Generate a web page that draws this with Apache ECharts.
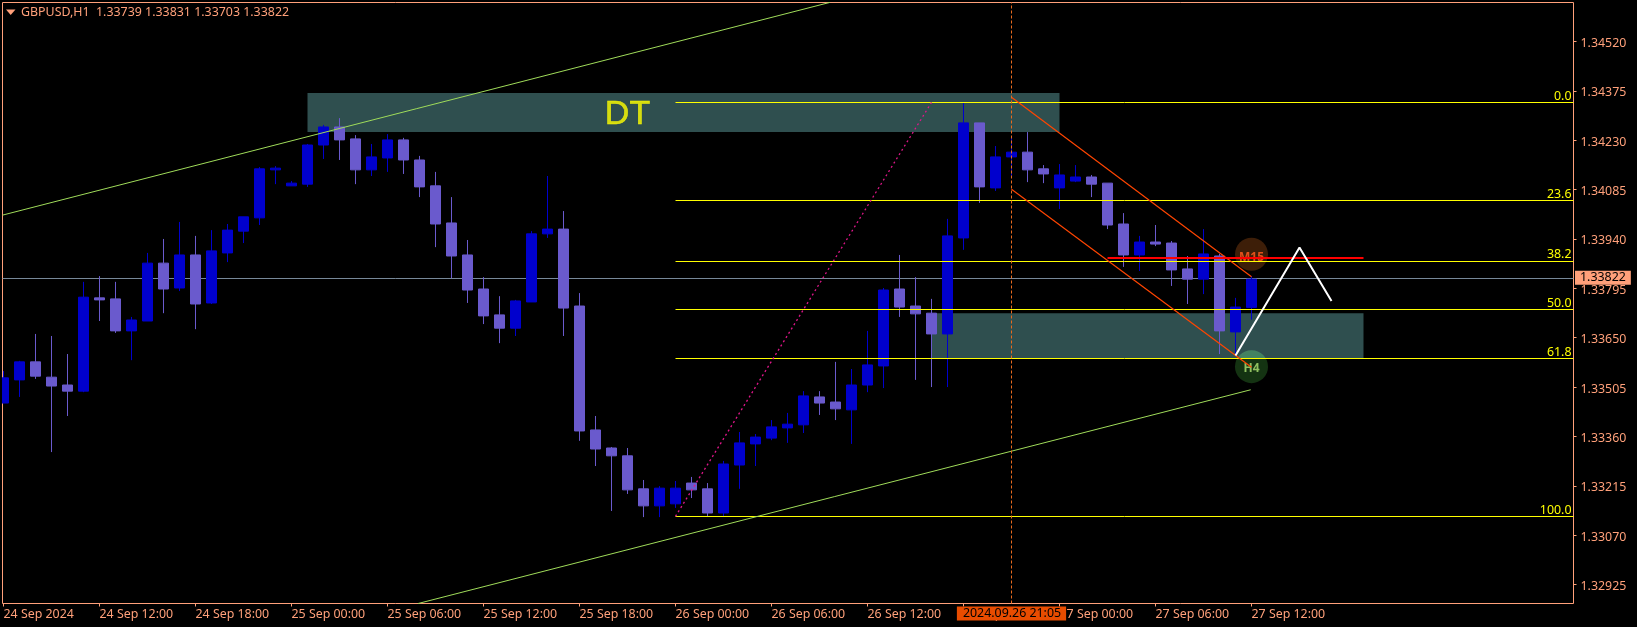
<!DOCTYPE html>
<html><head><meta charset="utf-8"><style>html,body{margin:0;padding:0;background:#000}#c{width:1637px;height:627px}</style>
<script src="https://cdn.jsdelivr.net/npm/echarts@6/dist/echarts.min.js"></script></head>
<body><div id="c"></div><script>
const opens=[1.33458,1.33526,1.33579,1.33534,1.33511,1.33493,1.33767,1.33764,1.33670,1.33699,1.33869,1.33796,1.33893,1.33752,1.33899,1.33963,1.34002,1.34143,1.34096,1.34101,1.34216,1.34269,1.34234,1.34143,1.34178,1.34231,1.34172,1.34096,1.33987,1.33893,1.33793,1.33717,1.33678,1.33755,1.33955,1.33969,1.33743,1.33379,1.33326,1.33303,1.33206,1.33156,1.33162,1.33223,1.33206,1.33135,1.33276,1.33338,1.33355,1.33385,1.33394,1.33476,1.33461,1.33438,1.33511,1.33567,1.33793,1.33743,1.33722,1.33661,1.33943,1.34281,1.34090,1.34181,1.34195,1.34146,1.34090,1.34110,1.34122,1.34104,1.33984,1.33893,1.33931,1.33928,1.33852,1.33822,1.33890,1.33667,1.33739];
const highs=[1.33552,1.33582,1.33661,1.33655,1.33602,1.33814,1.33831,1.33814,1.33711,1.33899,1.33940,1.33990,1.33949,1.33966,1.33984,1.34005,1.34151,1.34154,1.34110,1.34219,1.34275,1.34295,1.34245,1.34219,1.34248,1.34237,1.34184,1.34137,1.34063,1.33937,1.33828,1.33772,1.33761,1.33963,1.34125,1.34022,1.33781,1.33420,1.33329,1.33326,1.33232,1.33214,1.33229,1.33241,1.33223,1.33288,1.33373,1.33367,1.33408,1.33429,1.33493,1.33493,1.33579,1.33558,1.33670,1.33796,1.33893,1.33828,1.33764,1.33999,1.34339,1.34281,1.34213,1.34240,1.34254,1.34157,1.34160,1.34157,1.34128,1.34104,1.34016,1.33949,1.33981,1.33934,1.33890,1.33969,1.33896,1.33767,1.33831];
const lows=[1.33458,1.33476,1.33529,1.33314,1.33420,1.33490,1.33699,1.33664,1.33584,1.33699,1.33722,1.33787,1.33675,1.33749,1.33872,1.33928,1.33981,1.34101,1.34096,1.34093,1.34175,1.34172,1.34101,1.34125,1.34137,1.34131,1.34063,1.33916,1.33825,1.33752,1.33690,1.33634,1.33655,1.33755,1.33943,1.33655,1.33347,1.33273,1.33141,1.33191,1.33123,1.33123,1.33150,1.33179,1.33126,1.33126,1.33206,1.33273,1.33349,1.33341,1.33370,1.33423,1.33408,1.33338,1.33490,1.33502,1.33711,1.33526,1.33505,1.33505,1.33908,1.34046,1.34081,1.34122,1.34107,1.34104,1.34028,1.34107,1.34063,1.33969,1.33858,1.33846,1.33919,1.33802,1.33749,1.33778,1.33602,1.33596,1.33703];
const closes=[1.33532,1.33579,1.33537,1.33508,1.33493,1.33769,1.33761,1.33670,1.33702,1.33869,1.33793,1.33893,1.33749,1.33905,1.33966,1.34005,1.34146,1.34148,1.34104,1.34216,1.34269,1.34231,1.34143,1.34181,1.34231,1.34172,1.34093,1.33984,1.33890,1.33790,1.33714,1.33678,1.33758,1.33955,1.33969,1.33737,1.33376,1.33323,1.33303,1.33203,1.33156,1.33208,1.33208,1.33203,1.33135,1.33279,1.33341,1.33358,1.33388,1.33396,1.33479,1.33458,1.33441,1.33511,1.33570,1.33790,1.33740,1.33720,1.33661,1.33949,1.34281,1.34093,1.34181,1.34195,1.34143,1.34131,1.34128,1.34122,1.34101,1.33981,1.33893,1.33931,1.33925,1.33849,1.33822,1.33896,1.33670,1.33740,1.33822];

const xTicks=[0,6,12,18,24,30,36,42,48,54,60,66,72,78];
const xTickLabels=['24 Sep 2024','24 Sep 12:00','24 Sep 18:00','25 Sep 00:00','25 Sep 06:00','25 Sep 12:00','25 Sep 18:00','26 Sep 00:00','26 Sep 06:00','26 Sep 12:00','26 Sep 18:00','27 Sep 00:00','27 Sep 06:00','27 Sep 12:00'];
const yTicks=[1.34520,1.34375,1.34230,1.34085,1.33940,1.33795,1.33650,1.33505,1.33360,1.33215,1.33070,1.32925];

const xMin=-0.0625,xMax=98.125,yMin=1.328692,yMax=1.346346;
const lastPriceText='1.33822', lastPriceLevel=1.33826;
const cursorBar=63, cursorLabel='2024.09.26 21:05';
const fibNames=['0.0','23.6','38.2','50.0','61.8','100.0'];
const fibPrices=[1.34341,1.34054,1.33876,1.33733,1.33590,1.33125];
const fibStartBar=42;
const fibDiagonalBars=[42,58], fibDiagonalPrices=[1.33125,1.34341];
const upperTrendBars=[xMin,51.66], upperTrendPrices=[1.34010,1.34635];
const lowerTrendBars=[25.9,77.95], lowerTrendPrices=[1.32869,1.33497];
const channelABars=[63,78], channelAPrices=[1.34356,1.33829];
const channelBBars=[63,78], channelBPrices=[1.34086,1.33563];
const resistanceBars=[69,85], resistancePrices=[1.33884,1.33884];
const zigzagBars=[77,81,83], zigzagPrices=[1.33598,1.33915,1.33758];
const zoneTop={bars:[19,66],prices:[1.34369,1.34254]};
const zoneBottom={bars:[58,85],prices:[1.33722,1.33589]};

const SALMON='#FFA07A', FONT='"Noto Sans",sans-serif', FS=12.4;
const pair=(xs,ys)=>xs.map((x,i)=>[x,ys[i]]);
const lineS=(name,xs,ys,color,width,type)=>({name,type:'line',data:pair(xs,ys),symbol:'none',silent:true,z:5,lineStyle:{color,width,type:type||'solid'},animation:false});

const chart=echarts.init(document.getElementById('c'),null,{renderer:'canvas'});
chart.setOption({
  animation:false,backgroundColor:'#000',
  title:{text:'GBPUSD,H1  1.33739 1.33831 1.33703 1.33822',left:21,top:6,padding:0,textStyle:{color:SALMON,fontSize:FS,fontWeight:'normal',fontFamily:FONT}},
  graphic:[
    {type:'polygon',shape:{points:[[6,9.5],[15.5,9.5],[10.7,15]]},style:{fill:SALMON},z:100},
    {type:'rect',shape:{x:0,y:0,width:2,height:627},style:{fill:'#000'},z:100}
  ],
  grid:{left:2.5,top:2.5,width:1571,height:601,show:true,backgroundColor:'#000',borderColor:SALMON,borderWidth:1},
  xAxis:{type:'value',min:xMin,max:xMax,splitLine:{show:false},axisLine:{show:false,onZero:false},
    axisTick:{show:true,length:3,customValues:xTicks,lineStyle:{color:SALMON}},
    axisLabel:{customValues:xTicks,color:SALMON,fontFamily:FONT,fontSize:FS,align:'left',margin:5,hideOverlap:false,
      formatter:v=>xTickLabels[xTicks.indexOf(v)]||''}},
  yAxis:{type:'value',position:'right',min:yMin,max:yMax,splitLine:{show:false},axisLine:{show:false,onZero:false},
    axisTick:{show:true,length:3,customValues:yTicks,lineStyle:{color:SALMON}},
    axisLabel:{customValues:yTicks,color:SALMON,fontFamily:FONT,fontSize:FS,margin:7,verticalAlign:'top',lineHeight:4,hideOverlap:false,formatter:v=>v.toFixed(5)}},
  series:[
    {name:'zones',type:'line',data:[],z:0,silent:true,markArea:{silent:true,z:0,itemStyle:{color:'#2F4F4F',opacity:1},
      data:[zoneTop,zoneBottom].map(r=>[{coord:[r.bars[0],r.prices[0]]},{coord:[r.bars[1],r.prices[1]]}])}},
    {name:'last',type:'line',data:[],z:1,silent:true,
      markLine:{silent:true,z:1,symbol:'none',animation:false,precision:6,
        lineStyle:{color:'#778899',width:1,type:'solid'},
        label:{position:'end',distance:1.5,color:'#000',backgroundColor:SALMON,padding:[1,5,1,5],lineHeight:12,fontSize:FS,fontFamily:FONT,formatter:lastPriceText},
        data:[[{coord:[xMin,lastPriceLevel]},{coord:[xMax,lastPriceLevel]}]]}},
    {name:'M15',type:'scatter',z:2,silent:true,symbolSize:33,data:[[78,1.33895]],itemStyle:{color:'#3D1E08',opacity:1},
      label:{show:true,position:'inside',offset:[0,3.5],formatter:'M15',color:'#E0501A',fontSize:12,fontWeight:'bold',fontFamily:FONT}},
    {name:'H4',type:'scatter',z:2,silent:true,symbolSize:33,blendMode:'lighter',data:[[78,1.33565]],itemStyle:{color:'rgb(20,51,18)',opacity:1},
      label:{show:true,position:'inside',offset:[0,2],formatter:'H4',color:'#8FC060',fontSize:12,fontWeight:'bold',fontFamily:FONT}},
    {name:'GBPUSD',type:'candlestick',z:4,silent:true,barWidth:11,
      data:opens.map((o,i)=>[i,o,closes[i],lows[i],highs[i]]),
      itemStyle:{color:'#0000CD',color0:'#6A5ACD',borderColor:'#0000CD',borderColor0:'#6A5ACD',borderWidth:1}},
    lineS('upper trend',upperTrendBars,upperTrendPrices,'#A0DC5A',1),
    lineS('lower trend',lowerTrendBars,lowerTrendPrices,'#A0DC5A',1),
    lineS('fibo diagonal',fibDiagonalBars,fibDiagonalPrices,'#E0168A',1.3,[2,3]),
    lineS('channel A',channelABars,channelAPrices,'#FF4500',1.2),
    lineS('channel B',channelBBars,channelBPrices,'#FF4500',1.2),
    lineS('resistance',resistanceBars,resistancePrices,'#FF0000',2),
    lineS('zigzag',zigzagBars,zigzagPrices,'#FFFFFF',2),
    {name:'levels',type:'line',data:[],z:5,silent:true,
      markLine:{silent:true,z:5,symbol:'none',animation:false,precision:6,
        lineStyle:{color:'#FFFF00',width:1,type:'solid'},
        label:{position:'insideEndTop',distance:[2,0],color:'#FFFF00',fontSize:FS,fontFamily:FONT,formatter:'{b}'},
        data:fibNames.map((n,i)=>[{name:n,coord:[fibStartBar,fibPrices[i]]},{coord:[xMax,fibPrices[i]]}])}},
    {name:'cursor',type:'line',data:[],z:6,silent:true,
      markLine:{silent:true,z:6,symbol:'none',animation:false,precision:6,
        lineStyle:{color:'#E86A1E',width:1,type:[3,2]},
        label:{position:'start',distance:3,color:'#000',backgroundColor:'#E84C00',padding:[1,5,1,6],lineHeight:12,fontSize:FS,fontFamily:FONT,formatter:cursorLabel},
        data:[[{coord:[cursorBar,yMin]},{coord:[cursorBar,yMax]}]]}},
    {name:'DT',type:'scatter',z:6,silent:true,symbolSize:1,data:[[39,1.34304]],itemStyle:{color:'rgba(0,0,0,0)'},
      label:{show:true,position:'inside',formatter:'DT',color:'#FFFF00',textBorderColor:'#FFFF00',textBorderWidth:0.5,fontSize:34,fontFamily:'"Liberation Sans",sans-serif'}}
  ]
});
</script></body></html>
